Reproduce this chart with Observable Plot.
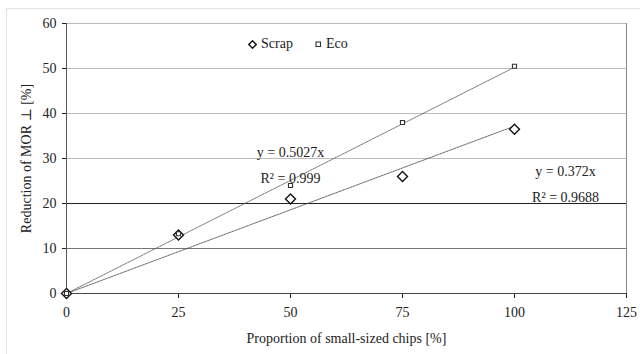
<!DOCTYPE html>
<html><head><meta charset="utf-8">
<script src="https://cdn.jsdelivr.net/npm/d3@7"></script>
<script src="https://cdn.jsdelivr.net/npm/@observablehq/plot@0.6"></script>
<style>
body{margin:0;background:#fff;font-family:"Liberation Serif","Times New Roman","DejaVu Serif",serif;}
#wrap{position:relative;width:640px;height:354px;overflow:hidden;}
#frame{position:absolute;left:6px;top:8px;width:660px;height:380px;border:1px solid #e2e2e2;}
#legend{position:absolute;left:248px;top:36px;font-size:14px;color:#222;display:flex;gap:22px;align-items:center;}
#legend span{display:flex;align-items:center;gap:4px;}
svg text{font-family:"Liberation Serif","Times New Roman","DejaVu Serif",serif;}
</style></head>
<body><div id="wrap"><div id="frame"></div><div id="chart"></div>
<div id="legend"><span><svg width="9" height="9"><path d="M4.5 0.8 L8.2 4.5 L4.5 8.2 L0.8 4.5Z" fill="#fff" stroke="#111" stroke-width="1.4"/></svg>Scrap</span><span><svg width="7" height="7"><rect x="1" y="1" width="4.5" height="4.5" fill="#fff" stroke="#333" stroke-width="1.1"/></svg>Eco</span></div>
</div>
<script>
const proportion = [0, 25, 50, 75, 100];
const scrap = [0, 13, 21, 26, 36.5];
const eco = [0, 13.3, 24, 38, 50.5];
const slopeEco = 0.5027, r2Eco = "0.999";
const slopeScrap = 0.372, r2Scrap = "0.9688";
const xTicks = [0, 25, 50, 75, 100, 125];
const yTicks = [0, 10, 20, 30, 40, 50, 60];
const annotations = [
  {x: 50, y: 29.3, text: `y = ${slopeEco}x\nR² = ${r2Eco}`},
  {x: 111.4, y: 25.0, text: `y = ${slopeScrap}x\nR² = ${r2Scrap}`}
];

const scrapData = proportion.map((x, i) => ({x, y: scrap[i]}));
const ecoData = proportion.map((x, i) => ({x, y: eco[i]}));
const trendX = [0, 100];
const trendEco = trendX.map(x => ({x, y: slopeEco * x}));
const trendScrap = trendX.map(x => ({x, y: slopeScrap * x}));
const gridColor = v => v === 20 ? "#222" : v === 10 ? "#777" : "#bbb";
const serif = '"Liberation Serif", "Times New Roman", "DejaVu Serif", serif';

const chart = Plot.plot({
  width: 640, height: 354,
  marginLeft: 66, marginRight: 14, marginTop: 23, marginBottom: 61,
  x: {domain: [0, 125]},
  y: {domain: [0, 60]},
  style: {fontFamily: serif, fontSize: "14px", color: "#222", background: "transparent"},
  marks: [
    Plot.ruleY(yTicks.filter(v => v > 0), {y: d => d, stroke: d => gridColor(d), strokeWidth: 1, strokeOpacity: 1}),
    Plot.ruleX([125], {stroke: "#888"}),
    Plot.axisX({ticks: xTicks, tickSize: 5, tickPadding: 9, label: "Proportion of small-sized chips [%]", labelAnchor: "center", labelArrow: "none", labelOffset: 49, fontSize: 14}),
    Plot.axisY({ticks: yTicks, tickSize: 4, tickPadding: 6, label: "Reduction of MOR ⊥ [%]", labelAnchor: "center", labelArrow: "none", labelOffset: 45, fontSize: 14}),
    Plot.ruleX([0], {stroke: "#555"}),
    Plot.ruleY([0], {stroke: "#444"}),
    Plot.line(trendEco, {x: "x", y: "y", stroke: "#555", strokeWidth: 0.8, strokeDasharray: "2,1"}),
    Plot.line(trendScrap, {x: "x", y: "y", stroke: "#444", strokeWidth: 0.8, strokeDasharray: "2,1"}),
    Plot.dot(scrapData, {x: "x", y: "y", symbol: "diamond2", r: 4.5, stroke: "#111", fill: "#fff", strokeWidth: 1.4}),
    Plot.dot(ecoData, {x: "x", y: "y", symbol: "square2", r: 2.6, stroke: "#333", fill: "#fff", strokeWidth: 1.1}),
    Plot.text(annotations, {x: "x", y: "y", text: "text", fontSize: 14, lineHeight: 1.85, fill: "#222"})
  ]
});
document.getElementById("chart").appendChild(chart);
</script></body></html>
